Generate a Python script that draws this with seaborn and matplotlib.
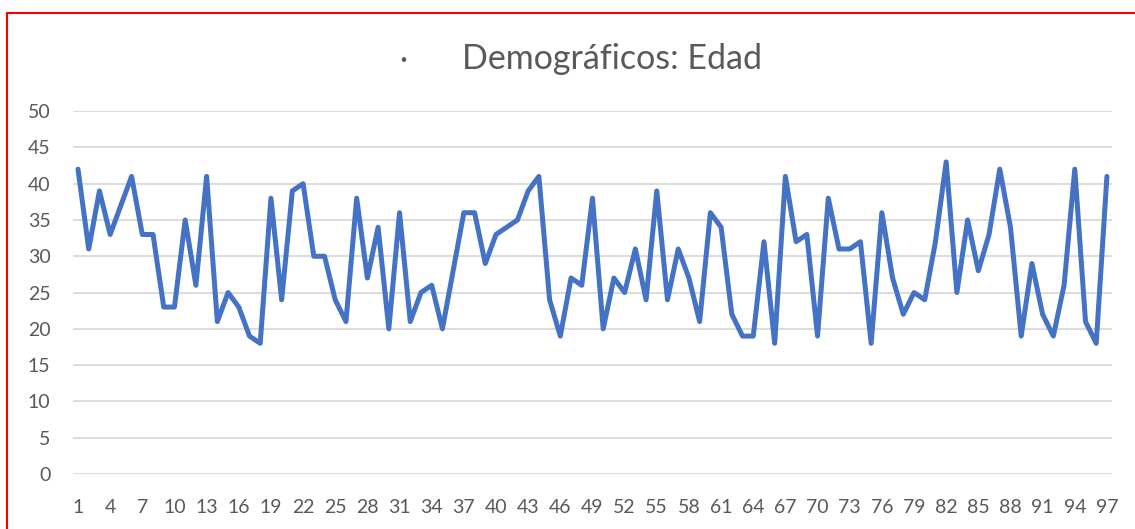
import numpy as np
import pandas as pd
import matplotlib
matplotlib.use('Agg')
import matplotlib.pyplot as plt
import seaborn as sns
from matplotlib.patches import Rectangle

# datos: edad por encuestado
respondents = list(range(1, 98))
ages = [42, 31, 39, 33, 37, 41, 33, 33, 23, 23,
        35, 26, 41, 21, 25, 23, 19, 18, 38, 24,
        39, 40, 30, 30, 24, 21, 38, 27, 34, 20,
        36, 21, 25, 26, 20, 28, 36, 36, 29, 33,
        34, 35, 39, 41, 24, 19, 27, 26, 38, 20,
        27, 25, 31, 24, 39, 24, 31, 27, 21, 36,
        34, 22, 19, 19, 32, 18, 41, 32, 33, 19,
        38, 31, 31, 32, 18, 36, 27, 22, 25, 24,
        32, 43, 25, 35, 28, 33, 42, 34, 19, 29,
        22, 19, 26, 42, 21, 18, 41]
x_ticks = list(range(1, 98, 3))
y_ticks = list(range(0, 51, 5))
title = 'Demográficos: Edad'

df = pd.DataFrame({'n': respondents, 'edad': ages})

sns.set_style('white')
plt.rcParams['font.family'] = ['Lato', 'DejaVu Sans']

fig = plt.figure(figsize=(11.35, 5.29), dpi=100)
ax = fig.add_axes([0.064, 0.104, 0.916, 0.686])

# grilla horizontal estilo excel
for v in y_ticks:
    ax.axhline(v, color='#d9d9d9', lw=1.3, zorder=0)

sns.lineplot(data=df, x='n', y='edad', color='#4472c4', linewidth=3.6, ax=ax)

ax.set_xlim(0.5, 97.5)
ax.set_ylim(0, 50)
ax.set_xticks(x_ticks)
ax.set_yticks(y_ticks)
ax.tick_params(axis='both', length=0, labelsize=14, labelcolor='#595959')
ax.tick_params(axis='x', pad=18)
ax.tick_params(axis='y', pad=16)
ax.set(xlabel='', ylabel='')
for s in ax.spines.values():
    s.set_visible(False)

# titulo con viñeta suelta
fig.text(403 / 1135, 0.886, '·', ha='center', va='center', fontsize=22,
         color='#595959')
fig.text(612 / 1135, 0.888, title, ha='center', va='center', fontsize=24.5,
         color='#595959')

# marco rojo
fig.patches.append(Rectangle((7 / 1135, -0.1), 1.2, 1 - 12.5 / 529 + 0.1,
                             transform=fig.transFigure, fill=False,
                             edgecolor='red', lw=1.5))

plt.savefig('out.png', dpi=100)
plt.close()
